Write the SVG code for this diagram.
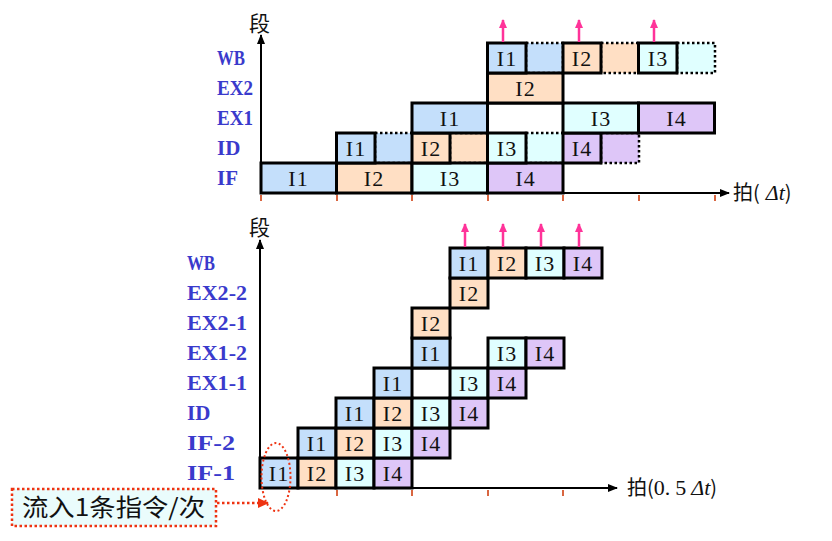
<svg xmlns="http://www.w3.org/2000/svg" width="832" height="541" viewBox="0 0 832 541">
<style>
.b{fill:#c4dffb}.p{fill:#ffdfc4}.c{fill:#e0ffff}.v{fill:#dec6f8}
.s{stroke:#000;stroke-width:3}
.d{stroke:#000;stroke-width:2.5;stroke-dasharray:2.5 2.5}
.t{font-family:"Liberation Serif",serif;font-size:22px;fill:#111;text-anchor:middle;letter-spacing:1px}
.lab{font-family:"Liberation Serif",serif;font-weight:bold;font-size:21px;fill:#3a3acc}
.cjk{font-family:"Noto Sans CJK SC",sans-serif;fill:#111}
.ax{stroke:#000;stroke-width:2;fill:none}
.tk{stroke:#cc3300;stroke-width:1.5}
.pk{stroke:#ff3399;stroke-width:2.5}
</style>
<defs>
<marker id="ah" markerWidth="10" markerHeight="10" refX="9" refY="5" orient="auto" markerUnits="userSpaceOnUse"><path d="M0,1 L10,5 L0,9 Z" fill="#000"/></marker>
<marker id="pa" markerWidth="10" markerHeight="10" refX="8" refY="5" orient="auto" markerUnits="userSpaceOnUse"><path d="M0,1 L9,5 L0,9 Z" fill="#ff3399"/></marker>
<marker id="ra" markerWidth="12" markerHeight="12" refX="10" refY="6" orient="auto" markerUnits="userSpaceOnUse"><path d="M0,1 L11,6 L0,11 Z" fill="#ee3311"/></marker>
</defs>

<!-- ===== TOP DIAGRAM ===== -->
<g id="top-labels">
<text class="lab" x="217" y="65" textLength="28" lengthAdjust="spacingAndGlyphs">WB</text>
<text class="lab" x="217" y="95" textLength="36" lengthAdjust="spacingAndGlyphs">EX2</text>
<text class="lab" x="217" y="125" textLength="36" lengthAdjust="spacingAndGlyphs">EX1</text>
<text class="lab" x="217" y="155">ID</text>
<text class="lab" x="217" y="185">IF</text>
<text class="cjk" x="249" y="31" font-size="21">段</text>
<text class="cjk" x="733" y="200" font-size="20">拍(<tspan font-style="italic" font-family="Liberation Serif,serif" font-size="22" dx="6">Δt</tspan>)</text>
</g>

<!-- dotted halves (drawn first) -->
<g id="top-dotted">
<rect class="b d" x="375" y="133" width="37.5" height="30"/>
<rect class="p d" x="450" y="133" width="38" height="30"/>
<rect class="c d" x="526" y="133" width="38" height="30"/>
<rect class="v d" x="601" y="133" width="38" height="30"/>
<rect class="b d" x="526" y="43" width="37" height="30"/>
<rect class="p d" x="601" y="43" width="37.5" height="30"/>
<rect class="c d" x="677" y="43" width="38" height="30"/>
</g>

<g id="top-IF">
<g id="t-if-1"><rect class="b s" x="261" y="163" width="75.5" height="30"/><text class="t" x="298.5" y="186">I1</text></g>
<g id="t-if-2"><rect class="p s" x="336.5" y="163" width="75.5" height="30"/><text class="t" x="374" y="186">I2</text></g>
<g id="t-if-3"><rect class="c s" x="412" y="163" width="75.5" height="30"/><text class="t" x="450" y="186">I3</text></g>
<g id="t-if-4"><rect class="v s" x="487.5" y="163" width="75.5" height="30"/><text class="t" x="525.5" y="186">I4</text></g>
</g>
<g id="top-ID">
<g id="t-id-1"><rect class="b s" x="336.5" y="133" width="38.5" height="30"/><text class="t" x="356" y="156">I1</text></g>
<g id="t-id-2"><rect class="p s" x="412" y="133" width="38" height="30"/><text class="t" x="431" y="156">I2</text></g>
<g id="t-id-3"><rect class="c s" x="487.5" y="133" width="38.5" height="30"/><text class="t" x="507" y="156">I3</text></g>
<g id="t-id-4"><rect class="v s" x="563" y="133" width="38" height="30"/><text class="t" x="582" y="156">I4</text></g>
</g>
<g id="top-EX1">
<g id="t-ex1-1"><rect class="b s" x="412" y="103" width="75.5" height="30"/><text class="t" x="450" y="126">I1</text></g>
<g id="t-ex1-3"><rect class="c s" x="563" y="103" width="75.5" height="30"/><text class="t" x="601" y="126">I3</text></g>
<g id="t-ex1-4"><rect class="v s" x="638.5" y="103" width="76" height="30"/><text class="t" x="676.5" y="126">I4</text></g>
<line class="s" x1="487.5" y1="103" x2="563" y2="103"/>
</g>
<g id="top-EX2">
<g id="t-ex2-2"><rect class="p s" x="487.5" y="73" width="75.5" height="30"/><text class="t" x="525.5" y="96">I2</text></g>
</g>
<g id="top-WB">
<g id="t-wb-1"><rect class="b s" x="487.5" y="43" width="38.5" height="30"/><text class="t" x="507" y="66">I1</text></g>
<g id="t-wb-2"><rect class="p s" x="563" y="43" width="38" height="30"/><text class="t" x="582" y="66">I2</text></g>
<g id="t-wb-3"><rect class="c s" x="638.5" y="43" width="38.5" height="30"/><text class="t" x="658" y="66">I3</text></g>
</g>

<g id="top-connectors">
<line class="ax" x1="261" y1="194" x2="261" y2="35" marker-end="url(#ah)"/>
<line class="ax" x1="260" y1="193" x2="729" y2="193" marker-end="url(#ah)"/>
<line class="tk" x1="261" y1="195" x2="261" y2="201"/>
<line class="tk" x1="337" y1="195" x2="337" y2="201"/>
<line class="tk" x1="412" y1="195" x2="412" y2="201"/>
<line class="tk" x1="488" y1="195" x2="488" y2="201"/>
<line class="tk" x1="563" y1="195" x2="563" y2="201"/>
<line class="tk" x1="639" y1="195" x2="639" y2="201"/>
<line class="tk" x1="715" y1="195" x2="715" y2="201"/>
<line class="pk" x1="503" y1="42" x2="503" y2="20" marker-end="url(#pa)"/>
<line class="pk" x1="579" y1="42" x2="579" y2="20" marker-end="url(#pa)"/>
<line class="pk" x1="654" y1="42" x2="654" y2="20" marker-end="url(#pa)"/>
</g>

<!-- ===== BOTTOM DIAGRAM ===== -->
<g id="bottom-labels">
<text class="lab" x="187" y="270" textLength="28" lengthAdjust="spacingAndGlyphs">WB</text>
<text class="lab" x="187" y="300" textLength="60" lengthAdjust="spacingAndGlyphs">EX2-2</text>
<text class="lab" x="187" y="330" textLength="60" lengthAdjust="spacingAndGlyphs">EX2-1</text>
<text class="lab" x="187" y="360" textLength="60" lengthAdjust="spacingAndGlyphs">EX1-2</text>
<text class="lab" x="187" y="390" textLength="60" lengthAdjust="spacingAndGlyphs">EX1-1</text>
<text class="lab" x="187" y="420">ID</text>
<text class="lab" x="187" y="450" textLength="48" lengthAdjust="spacingAndGlyphs">IF-2</text>
<text class="lab" x="187" y="480" textLength="48" lengthAdjust="spacingAndGlyphs">IF-1</text>
<text class="cjk" x="249" y="235" font-size="21">段</text>
<text class="cjk" x="627" y="495" font-size="20">拍(<tspan font-family="Liberation Serif,serif" font-size="22">0.</tspan><tspan font-family="Liberation Serif,serif" font-size="22" dx="5">5</tspan><tspan font-style="italic" font-family="Liberation Serif,serif" font-size="22" dx="5">Δt</tspan>)</text>
</g>

<g id="bottom-IF1">
<g id="b-if1-1"><rect class="b s" x="260" y="458" width="38" height="30"/><text class="t" x="279" y="481">I1</text></g>
<g id="b-if1-2"><rect class="p s" x="298" y="458" width="38" height="30"/><text class="t" x="317" y="481">I2</text></g>
<g id="b-if1-3"><rect class="c s" x="336" y="458" width="38" height="30"/><text class="t" x="355" y="481">I3</text></g>
<g id="b-if1-4"><rect class="v s" x="374" y="458" width="38" height="30"/><text class="t" x="393" y="481">I4</text></g>
</g>
<g id="bottom-IF2">
<g id="b-if2-1"><rect class="b s" x="298" y="428" width="38" height="30"/><text class="t" x="317" y="451">I1</text></g>
<g id="b-if2-2"><rect class="p s" x="336" y="428" width="38" height="30"/><text class="t" x="355" y="451">I2</text></g>
<g id="b-if2-3"><rect class="c s" x="374" y="428" width="38" height="30"/><text class="t" x="393" y="451">I3</text></g>
<g id="b-if2-4"><rect class="v s" x="412" y="428" width="38" height="30"/><text class="t" x="431" y="451">I4</text></g>
</g>
<g id="bottom-ID">
<g id="b-id-1"><rect class="b s" x="336" y="398" width="38" height="30"/><text class="t" x="355" y="421">I1</text></g>
<g id="b-id-2"><rect class="p s" x="374" y="398" width="38" height="30"/><text class="t" x="393" y="421">I2</text></g>
<g id="b-id-3"><rect class="c s" x="412" y="398" width="38" height="30"/><text class="t" x="431" y="421">I3</text></g>
<g id="b-id-4"><rect class="v s" x="450" y="398" width="38" height="30"/><text class="t" x="469" y="421">I4</text></g>
</g>
<g id="bottom-EX11">
<g id="b-ex11-1"><rect class="b s" x="374" y="368" width="38" height="30"/><text class="t" x="393" y="391">I1</text></g>
<g id="b-ex11-3"><rect class="c s" x="450" y="368" width="38" height="30"/><text class="t" x="469" y="391">I3</text></g>
<g id="b-ex11-4"><rect class="v s" x="488" y="368" width="38" height="30"/><text class="t" x="507" y="391">I4</text></g>
<line class="s" x1="412" y1="368" x2="450" y2="368"/>
</g>
<g id="bottom-EX12">
<g id="b-ex12-1"><rect class="b s" x="412" y="338" width="38" height="30"/><text class="t" x="431" y="361">I1</text></g>
<g id="b-ex12-3"><rect class="c s" x="488" y="338" width="38" height="30"/><text class="t" x="507" y="361">I3</text></g>
<g id="b-ex12-4"><rect class="v s" x="526" y="338" width="38" height="30"/><text class="t" x="545" y="361">I4</text></g>
</g>
<g id="bottom-EX21">
<g id="b-ex21-2"><rect class="p s" x="412" y="308" width="38" height="30"/><text class="t" x="431" y="331">I2</text></g>
</g>
<g id="bottom-EX22">
<g id="b-ex22-2"><rect class="p s" x="450" y="278" width="38" height="30"/><text class="t" x="469" y="301">I2</text></g>
</g>
<g id="bottom-WB">
<g id="b-wb-1"><rect class="b s" x="450" y="248" width="38" height="30"/><text class="t" x="469" y="271">I1</text></g>
<g id="b-wb-2"><rect class="p s" x="488" y="248" width="38" height="30"/><text class="t" x="507" y="271">I2</text></g>
<g id="b-wb-3"><rect class="c s" x="526" y="248" width="38" height="30"/><text class="t" x="545" y="271">I3</text></g>
<g id="b-wb-4"><rect class="v s" x="564" y="248" width="38" height="30"/><text class="t" x="583" y="271">I4</text></g>
</g>

<g id="note">
<rect x="12" y="489" width="204" height="37" fill="#eafcfc" stroke="#ee3311" stroke-width="2.5" stroke-dasharray="2.5 2.5"/>
<text class="cjk" x="22" y="516" font-size="24" textLength="183" lengthAdjust="spacingAndGlyphs">流入1条指令/次</text>
</g>

<g id="bottom-connectors">
<line class="ax" x1="260" y1="489" x2="260" y2="240" marker-end="url(#ah)"/>
<line class="ax" x1="259" y1="488" x2="617" y2="488" marker-end="url(#ah)"/>
<line class="tk" x1="337" y1="490" x2="337" y2="496"/>
<line class="tk" x1="412" y1="490" x2="412" y2="496"/>
<line class="tk" x1="488" y1="490" x2="488" y2="496"/>
<line class="tk" x1="563" y1="490" x2="563" y2="496"/>
<line class="pk" x1="465" y1="247" x2="465" y2="224" marker-end="url(#pa)"/>
<line class="pk" x1="503" y1="247" x2="503" y2="224" marker-end="url(#pa)"/>
<line class="pk" x1="541" y1="247" x2="541" y2="224" marker-end="url(#pa)"/>
<line class="pk" x1="579" y1="247" x2="579" y2="224" marker-end="url(#pa)"/>
<ellipse cx="276" cy="477" rx="14.5" ry="34" fill="none" stroke="#ee3311" stroke-width="2" stroke-dasharray="2 2.5"/>
<line x1="217" y1="503" x2="268" y2="503" stroke="#ee3311" stroke-width="2.5" stroke-dasharray="2.5 2.5" marker-end="url(#ra)"/>
</g>
</svg>
